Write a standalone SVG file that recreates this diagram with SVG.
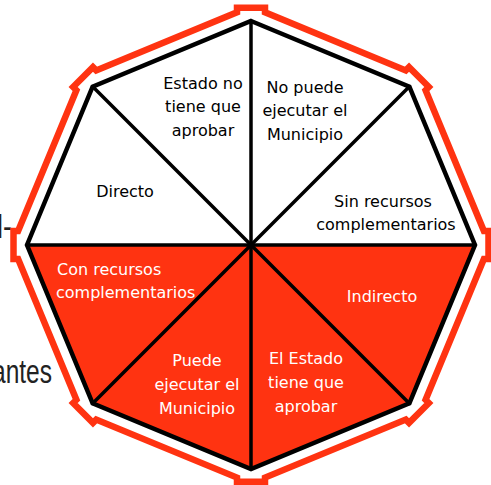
<svg xmlns="http://www.w3.org/2000/svg" width="491" height="485" viewBox="0 0 491 485">
<style>
.w{fill:#ffffff}
.r{fill:#FF3311}
.t{font-family:"DejaVu Sans",Verdana,sans-serif;font-size:16px;text-anchor:middle}
.tb{fill:#000000}
.tw{fill:#ffffff}
.bg{font-family:"Liberation Sans",Arial,sans-serif;font-size:33px;fill:#222222}
.sp{stroke:#000;stroke-width:3.5;fill:none;stroke-linecap:round}
</style>
<rect width="491" height="485" fill="#ffffff"/>
<g id="background-text">
<text class="bg" x="-8" y="383" textLength="60" lengthAdjust="spacingAndGlyphs">antes</text>
<text class="bg" x="-3" y="238" textLength="15" lengthAdjust="spacingAndGlyphs" fill="#666666">l-</text>
</g>
<path id="outer-ring" d="M237,12.3 L237,7.8 L265,7.8 L265,12.3 L405.79,70.41 L409.04,67.16 L428.84,86.96 L425.59,90.21 L483.9,231 L488.5,231 L488.5,259 L483.9,259 L425.59,399.79 L428.84,403.04 L409.04,422.84 L405.79,419.59 L265,477.6 L265,481.8 L237,481.8 L237,477.6 L96.21,419.59 L92.96,422.84 L73.16,403.04 L76.41,399.79 L18.1,259 L13.5,259 L13.5,231 L18.1,231 L76.41,90.21 L73.16,86.96 L92.96,67.16 L96.21,70.41 Z" fill="none" stroke="#FF3311" stroke-width="6.5" stroke-linejoin="miter"/>
<g id="sector-directo">
<polygon class="w" points="251,245 27,245 92.6,86.6"/>
<text class="t tb" x="125" y="197">Directo</text>
</g>
<g id="sector-estado-no-aprobar">
<polygon class="w" points="251,245 92.6,86.6 251,21"/>
<text class="t tb" x="203" y="89">Estado no</text>
<text class="t tb" x="203" y="112">tiene que</text>
<text class="t tb" x="203" y="136">aprobar</text>
</g>
<g id="sector-no-puede-ejecutar">
<polygon class="w" points="251,245 251,21 409.4,86.6"/>
<text class="t tb" x="305" y="93">No puede</text>
<text class="t tb" x="305" y="116">ejecutar el</text>
<text class="t tb" x="305" y="140">Municipio</text>
</g>
<g id="sector-sin-recursos">
<polygon class="w" points="251,245 409.4,86.6 475,245"/>
<text class="t tb" x="383" y="207">Sin recursos</text>
<text class="t tb" x="386" y="230">complementarios</text>
</g>
<g id="sector-indirecto">
<polygon class="r" points="251,245 475,245 409.4,403.4"/>
<text class="t tw" x="382" y="302">Indirecto</text>
</g>
<g id="sector-estado-tiene-aprobar">
<polygon class="r" points="251,245 409.4,403.4 251,469"/>
<text class="t tw" x="306" y="364">El Estado</text>
<text class="t tw" x="306" y="388">tiene que</text>
<text class="t tw" x="306" y="412">aprobar</text>
</g>
<g id="sector-puede-ejecutar">
<polygon class="r" points="251,245 251,469 92.6,403.4"/>
<text class="t tw" x="197" y="366">Puede</text>
<text class="t tw" x="197" y="390">ejecutar el</text>
<text class="t tw" x="197" y="414">Municipio</text>
</g>
<g id="sector-con-recursos">
<polygon class="r" points="251,245 92.6,403.4 27,245"/>
<text class="t tw" x="57" y="275" style="text-anchor:start">Con recursos</text>
<text class="t tw" x="56" y="298" style="text-anchor:start">complementarios</text>
</g>
<g id="connectors">
<line class="sp" x1="251" y1="245" x2="251" y2="21"/>
<line class="sp" x1="251" y1="245" x2="409.4" y2="86.6"/>
<line class="sp" x1="251" y1="245" x2="475" y2="245"/>
<line class="sp" x1="251" y1="245" x2="409.4" y2="403.4"/>
<line class="sp" x1="251" y1="245" x2="251" y2="469"/>
<line class="sp" x1="251" y1="245" x2="92.6" y2="403.4"/>
<line class="sp" x1="251" y1="245" x2="27" y2="245"/>
<line class="sp" x1="251" y1="245" x2="92.6" y2="86.6"/>
</g>
<polygon id="octagon-outline" points="251,21 409.4,86.6 475,245 409.4,403.4 251,469 92.6,403.4 27,245 92.6,86.6" fill="none" stroke="#000" stroke-width="4.5" stroke-linejoin="miter"/>
</svg>
